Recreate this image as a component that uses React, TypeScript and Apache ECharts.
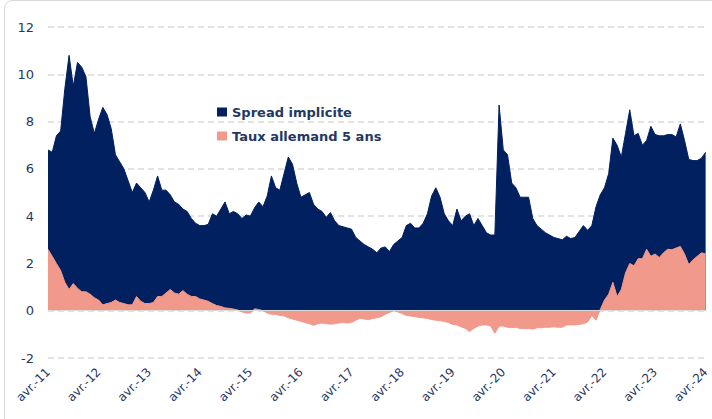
import React, { useEffect, useRef } from "react";
import * as echarts from "echarts";

// Monthly observations, April 2011 -> April 2024
const tickLabels = [
  "avr.-11", "avr.-12", "avr.-13", "avr.-14", "avr.-15", "avr.-16", "avr.-17",
  "avr.-18", "avr.-19", "avr.-20", "avr.-21", "avr.-22", "avr.-23", "avr.-24",
];

// Level of the navy area (Spread implicite)
const spreadImplicite = [
  6.8, 6.7, 7.4, 7.6, 9.4, 10.8, 9.5, 10.5, 10.3, 9.9, 8.2,
  7.5, 8.1, 8.6, 8.3, 7.7, 6.6, 6.3, 6.0, 5.5, 5.0,
  5.4, 5.2, 5.0, 4.6, 5.1, 5.7, 5.1, 5.1, 4.9, 4.6,
  4.5, 4.3, 4.2, 3.9, 3.7, 3.6, 3.6, 3.65, 4.1, 4.0,
  4.3, 4.6, 4.1, 4.2, 4.1, 3.9, 4.05, 4.0, 4.35, 4.6,
  4.4, 4.85, 5.7, 5.2, 5.1, 5.8, 6.5, 6.2, 5.4, 4.8,
  4.9, 5.0, 4.5, 4.3, 4.2, 3.95, 4.15, 3.8, 3.6, 3.55,
  3.5, 3.45, 3.1, 2.95, 2.8, 2.7, 2.6, 2.45, 2.65, 2.7,
  2.5, 2.8, 2.95, 3.1, 3.6, 3.7, 3.5, 3.5, 3.7, 4.1,
  4.85, 5.2, 4.8, 4.1, 3.8, 3.6, 4.3, 3.8, 4.0, 4.1,
  3.6, 3.9, 3.6, 3.3, 3.2, 3.2, 8.7, 6.8, 6.6, 5.4,
  5.2, 4.8, 4.8, 4.8, 3.9, 3.6, 3.45, 3.3, 3.2, 3.1,
  3.05, 3.0, 3.15, 3.05, 3.1, 3.35, 3.6, 3.4, 3.6, 4.4,
  4.9, 5.2, 5.8, 7.3, 7.0, 6.5, 7.5, 8.5, 7.4, 7.5,
  7.0, 7.2, 7.8, 7.45, 7.4, 7.4, 7.45, 7.45, 7.35, 7.9,
  7.2, 6.4, 6.35, 6.35, 6.45, 6.7,
];

// Taux allemand 5 ans
const tauxAllemand5ans = [
  2.6, 2.3, 2.0, 1.7, 1.2, 0.9, 1.15, 0.95, 0.8, 0.8, 0.7,
  0.55, 0.45, 0.25, 0.3, 0.35, 0.45, 0.35, 0.3, 0.25, 0.25,
  0.6, 0.4, 0.3, 0.3, 0.35, 0.6, 0.6, 0.75, 0.9, 0.75,
  0.7, 0.85, 0.7, 0.6, 0.6, 0.5, 0.45, 0.4, 0.3, 0.22,
  0.18, 0.12, 0.1, 0.07, 0.03, -0.05, -0.1, -0.1, 0.08, 0.05,
  0.0, -0.1, -0.15, -0.15, -0.2, -0.22, -0.3, -0.35, -0.4, -0.45,
  -0.5, -0.55, -0.62, -0.55, -0.52, -0.55, -0.57, -0.55, -0.52, -0.5,
  -0.52, -0.5, -0.4, -0.32, -0.35, -0.38, -0.33, -0.3, -0.25, -0.15,
  -0.08, 0.0, -0.05, -0.12, -0.2, -0.22, -0.25, -0.28, -0.3, -0.33,
  -0.37, -0.4, -0.42, -0.45, -0.5, -0.58, -0.6, -0.68, -0.75, -0.88,
  -0.75, -0.65, -0.6, -0.6, -0.65, -0.95, -0.65, -0.65, -0.7, -0.72,
  -0.7, -0.75, -0.75, -0.75, -0.78, -0.72, -0.72, -0.7, -0.7, -0.68,
  -0.7, -0.7, -0.6, -0.6, -0.6, -0.58, -0.55, -0.48, -0.2, -0.4,
  0.05, 0.45, 0.7, 1.2, 0.6, 0.9, 1.6, 2.0, 1.9, 2.2,
  2.2, 2.6, 2.3, 2.4, 2.25, 2.45, 2.6, 2.58, 2.65, 2.72,
  2.4, 1.95, 2.15, 2.3, 2.45, 2.4,
];

const categories = spreadImplicite.map((_, i) => {
  const t = 3 + i;
  const y = 2011 + Math.floor(t / 12);
  const mo = (t % 12) + 1;
  return `${y}-${String(mo).padStart(2, "0")}`;
});

const NAVY = "#002060";
const SALMON = "#F1998A";
const TEXT = "#1F3864";
const FONT = "'DejaVu Sans', Verdana, sans-serif";

export default function App() {
  const ref = useRef<HTMLDivElement>(null);

  useEffect(() => {
    if (!ref.current) return;
    const chart = echarts.init(ref.current, undefined, { renderer: "svg" });
    chart.setOption({
      animation: false,
      backgroundColor: "#ffffff",
      grid: { left: 48, right: 0, top: 27, bottom: 61, containLabel: false },
      legend: {
        orient: "vertical",
        left: 212,
        top: 99,
        icon: "rect",
        itemWidth: 10,
        itemHeight: 9,
        itemGap: 8,
        data: ["Spread implicite", "Taux allemand 5 ans"],
        textStyle: {
          color: TEXT,
          fontWeight: "bold",
          fontSize: 13,
          fontFamily: FONT,
          lineHeight: 16,
        },
      },
      graphic: [
        {
          type: "rect",
          silent: true,
          z: -10,
          shape: { x: 4.5, y: 0.5, width: 900, height: 700, r: 8 },
          style: { fill: "none", stroke: "#d9d9d9", lineWidth: 1 },
        },
      ],
      xAxis: {
        type: "category",
        data: categories,
        boundaryGap: false,
        axisLine: { show: false },
        axisTick: { show: false },
        splitLine: { show: false },
        axisLabel: {
          interval: 0,
          rotate: 45,
          margin: 12,
          color: TEXT,
          fontSize: 12,
          fontFamily: FONT,
          formatter: (_v: string, i: number) =>
            i % 12 === 0 ? tickLabels[i / 12] : "",
        },
      },
      yAxis: {
        type: "value",
        min: -2,
        max: 12,
        interval: 2,
        axisLine: { show: false },
        axisTick: { show: false },
        axisLabel: {
          color: TEXT,
          fontSize: 13,
          fontFamily: FONT,
          margin: 14,
        },
        splitLine: {
          show: true,
          lineStyle: { color: "#d9d9d9", type: [6, 4], width: 1.5 },
        },
      },
      series: [
        {
          name: "Spread implicite",
          type: "line",
          data: spreadImplicite,
          symbol: "none",
          showSymbol: false,
          itemStyle: { color: NAVY },
          lineStyle: { color: NAVY, width: 1 },
          areaStyle: { color: NAVY, opacity: 1 },
          z: 2,
        },
        {
          name: "Taux allemand 5 ans",
          type: "line",
          data: tauxAllemand5ans,
          symbol: "none",
          showSymbol: false,
          itemStyle: { color: SALMON },
          lineStyle: { color: SALMON, width: 1 },
          areaStyle: { color: SALMON, opacity: 1 },
          z: 3,
          markLine: {
            silent: true,
            symbol: ["none", "none"],
            label: { show: false },
            lineStyle: { color: "#d9d9d9", type: "solid", width: 1 },
            data: [{ yAxis: 0 }],
          },
        },
      ],
    });
    return () => chart.dispose();
  }, []);

  return (
    <div
      ref={ref}
      style={{ position: "fixed", left: 0, top: 0, width: 712, height: 419 }}
    />
  );
}
